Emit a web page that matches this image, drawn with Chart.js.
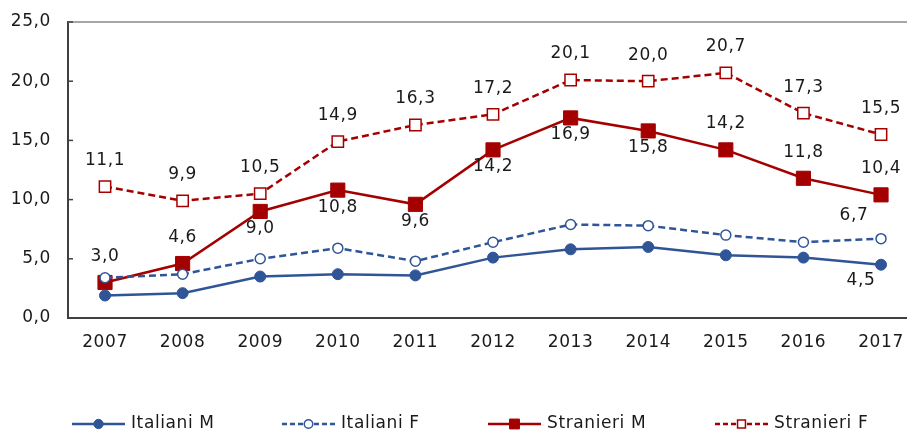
<!DOCTYPE html>
<html>
<head>
<meta charset="utf-8">
<script src="https://cdn.jsdelivr.net/npm/chart.js@4/dist/chart.umd.min.js"></script>
<style>
  html, body { margin: 0; padding: 0; background: #fff; }
  #wrap { width: 907px; height: 434px; }
</style>
</head>
<body>
<div id="wrap"><canvas id="chart" width="907" height="434"></canvas></div>
<script>
// anni e serie
const anni = [2007, 2008, 2009, 2010, 2011, 2012, 2013, 2014, 2015, 2016, 2017];
const italianiM = [1.9, 2.1, 3.5, 3.7, 3.6, 5.1, 5.8, 6.0, 5.3, 5.1, 4.5];
const italianiF = [3.4, 3.7, 5.0, 5.9, 4.8, 6.4, 7.9, 7.8, 7.0, 6.4, 6.7];
const stranieriM = [3.0, 4.6, 9.0, 10.8, 9.6, 14.2, 16.9, 15.8, 14.2, 11.8, 10.4];
const stranieriF = [11.1, 9.9, 10.5, 14.9, 16.3, 17.2, 20.1, 20.0, 20.7, 17.3, 15.5];
const yTicks = [0, 5, 10, 15, 20, 25];

// dove mettere le etichette: 'a' sopra, 'b' sotto, 'bl' sotto-sinistra, 'al' sopra-sinistra, '' nessuna
const posStranieriF = ['a','a','a','a','a','a','a','a','a','a','a'];
const posStranieriM = ['a','a','b','b','b','b','b','b','a','a','a'];
const posItalianiM = ['','','','','','','','','','','bl'];
const posItalianiF = ['','','','','','','','','','','al'];

const BLU = '#2F5597';
const ROSSO = '#A50000';
const FONT = '"DejaVu Sans", sans-serif';
const SIZE = 17;
const SPACING = '0.6px';
const LEGEND_X = [72, 282, 488, 715];

const punti = arr => arr.map((v, i) => ({ x: anni[i], y: v }));
const fmt = v => v.toFixed(1).replace('.', ',');

const datasets = [
  { label: 'Italiani M', data: punti(italianiM), borderColor: BLU, backgroundColor: BLU,
    borderWidth: 2.5, pointStyle: 'circle', pointRadius: 5.5, pointBorderWidth: 1, pos: posItalianiM },
  { label: 'Italiani F', data: punti(italianiF), borderColor: BLU, backgroundColor: '#fff',
    borderWidth: 2.5, borderDash: [7, 4], pointStyle: 'circle', pointRadius: 5, pointBorderWidth: 1.5, pos: posItalianiF },
  { label: 'Stranieri M', data: punti(stranieriM), borderColor: ROSSO, backgroundColor: ROSSO,
    borderWidth: 2.5, pointStyle: 'rect', pointRadius: 10, pointBorderWidth: 1, pos: posStranieriM },
  { label: 'Stranieri F', data: punti(stranieriF), borderColor: ROSSO, backgroundColor: '#fff',
    borderWidth: 2.5, borderDash: [7, 4], pointStyle: 'rect', pointRadius: 8, pointBorderWidth: 1.5, pos: posStranieriF }
];
datasets.forEach(d => { d.tension = 0; d.pointBorderColor = d.borderColor; d.pointBackgroundColor = d.backgroundColor; });

// etichette dei valori, tacche interne e bordi
const extras = {
  id: 'extras',
  beforeDraw(chart) {
    chart.ctx.letterSpacing = SPACING;
  },
  afterDatasetsDraw(chart) {
    const ctx = chart.ctx;
    const a = chart.chartArea;
    const y = chart.scales.y;
    ctx.save();
    ctx.strokeStyle = '#A6A6A6';
    ctx.lineWidth = 2;
    ctx.beginPath(); ctx.moveTo(a.left, a.top); ctx.lineTo(chart.width, a.top); ctx.stroke();
    ctx.strokeStyle = '#404040';
    const by = Math.round(a.bottom);
    ctx.beginPath(); ctx.moveTo(a.right - 2, by); ctx.lineTo(chart.width, by); ctx.stroke();
    ctx.lineWidth = 1.5;
    yTicks.forEach(t => {
      const py = y.getPixelForValue(t);
      ctx.beginPath(); ctx.moveTo(a.left, py); ctx.lineTo(a.left + 5, py); ctx.stroke();
    });
    ctx.fillStyle = '#1a1a1a';
    ctx.font = SIZE + 'px ' + FONT;
    ctx.textAlign = 'center';
    ctx.textBaseline = 'middle';
    chart.data.datasets.forEach((ds, di) => {
      const meta = chart.getDatasetMeta(di);
      meta.data.forEach((pt, i) => {
        const p = ds.pos[i];
        if (!p) return;
        let dx = 0, dy = -26;
        if (p === 'b') dy = 17;
        if (p === 'bl') { dx = -20; dy = 16; }
        if (p === 'al') { dx = -27; dy = -23; }
        ctx.fillText(fmt(ds.data[i].y), pt.x + dx, pt.y + dy);
      });
    });
    ctx.restore();
  },
  afterDraw(chart) {
    // legenda con linea e marcatore al centro
    const ctx = chart.ctx;
    const ly = 424;
    ctx.save();
    ctx.font = SIZE + 'px ' + FONT;
    ctx.textBaseline = 'middle';
    ctx.textAlign = 'left';
    chart.data.datasets.forEach((ds, di) => {
      const x = LEGEND_X[di];
      const len = 53;
      ctx.strokeStyle = ds.borderColor;
      ctx.lineWidth = 2.5;
      ctx.setLineDash(ds.borderDash ? [5, 3] : []);
      ctx.beginPath(); ctx.moveTo(x, ly); ctx.lineTo(x + len, ly); ctx.stroke();
      ctx.setLineDash([]);
      const mx = x + len / 2;
      ctx.fillStyle = ds.backgroundColor;
      ctx.strokeStyle = ds.borderColor;
      ctx.lineWidth = ds.pointBorderWidth;
      const r = ds.pointStyle === 'rect' ? ds.pointRadius * 0.7 : ds.pointRadius * 0.85;
      Chart.helpers.drawPoint(ctx, { pointStyle: ds.pointStyle, radius: r, borderWidth: ds.pointBorderWidth }, mx, ly);
      ctx.fillStyle = '#1a1a1a';
      ctx.fillText(ds.label, x + len + 6, ly);
    });
    ctx.restore();
  }
};

new Chart(document.getElementById('chart'), {
  type: 'line',
  data: { datasets },
  options: {
    responsive: false,
    animation: false,
    layout: { padding: { top: 22, right: 0, bottom: 0, left: 0 } },
    plugins: { legend: { display: false }, tooltip: { enabled: false } },
    scales: {
      x: {
        type: 'linear',
        min: 2006.523,
        max: 2017.193,
        afterBuildTicks: s => { s.ticks = anni.map(v => ({ value: v })); },
        afterFit: s => { s.height = 116; s.paddingLeft = 0; s.paddingRight = 0; },
        grid: { display: false, drawTicks: false },
        border: { color: '#404040', width: 2 },
        ticks: { color: '#1a1a1a', padding: 14, font: { family: FONT, size: SIZE },
          callback: v => String(v), maxRotation: 0 }
      },
      y: {
        min: 0,
        max: 25,
        afterBuildTicks: s => { s.ticks = yTicks.map(v => ({ value: v })); },
        afterFit: s => { s.width = 68; s.paddingTop = 0; s.paddingBottom = 0; },
        grid: { display: false, drawTicks: false },
        border: { color: '#404040', width: 2 },
        ticks: { color: '#1a1a1a', padding: 17, font: { family: FONT, size: SIZE }, callback: v => fmt(v) }
      }
    }
  },
  plugins: [extras]
});
</script>
</body>
</html>
